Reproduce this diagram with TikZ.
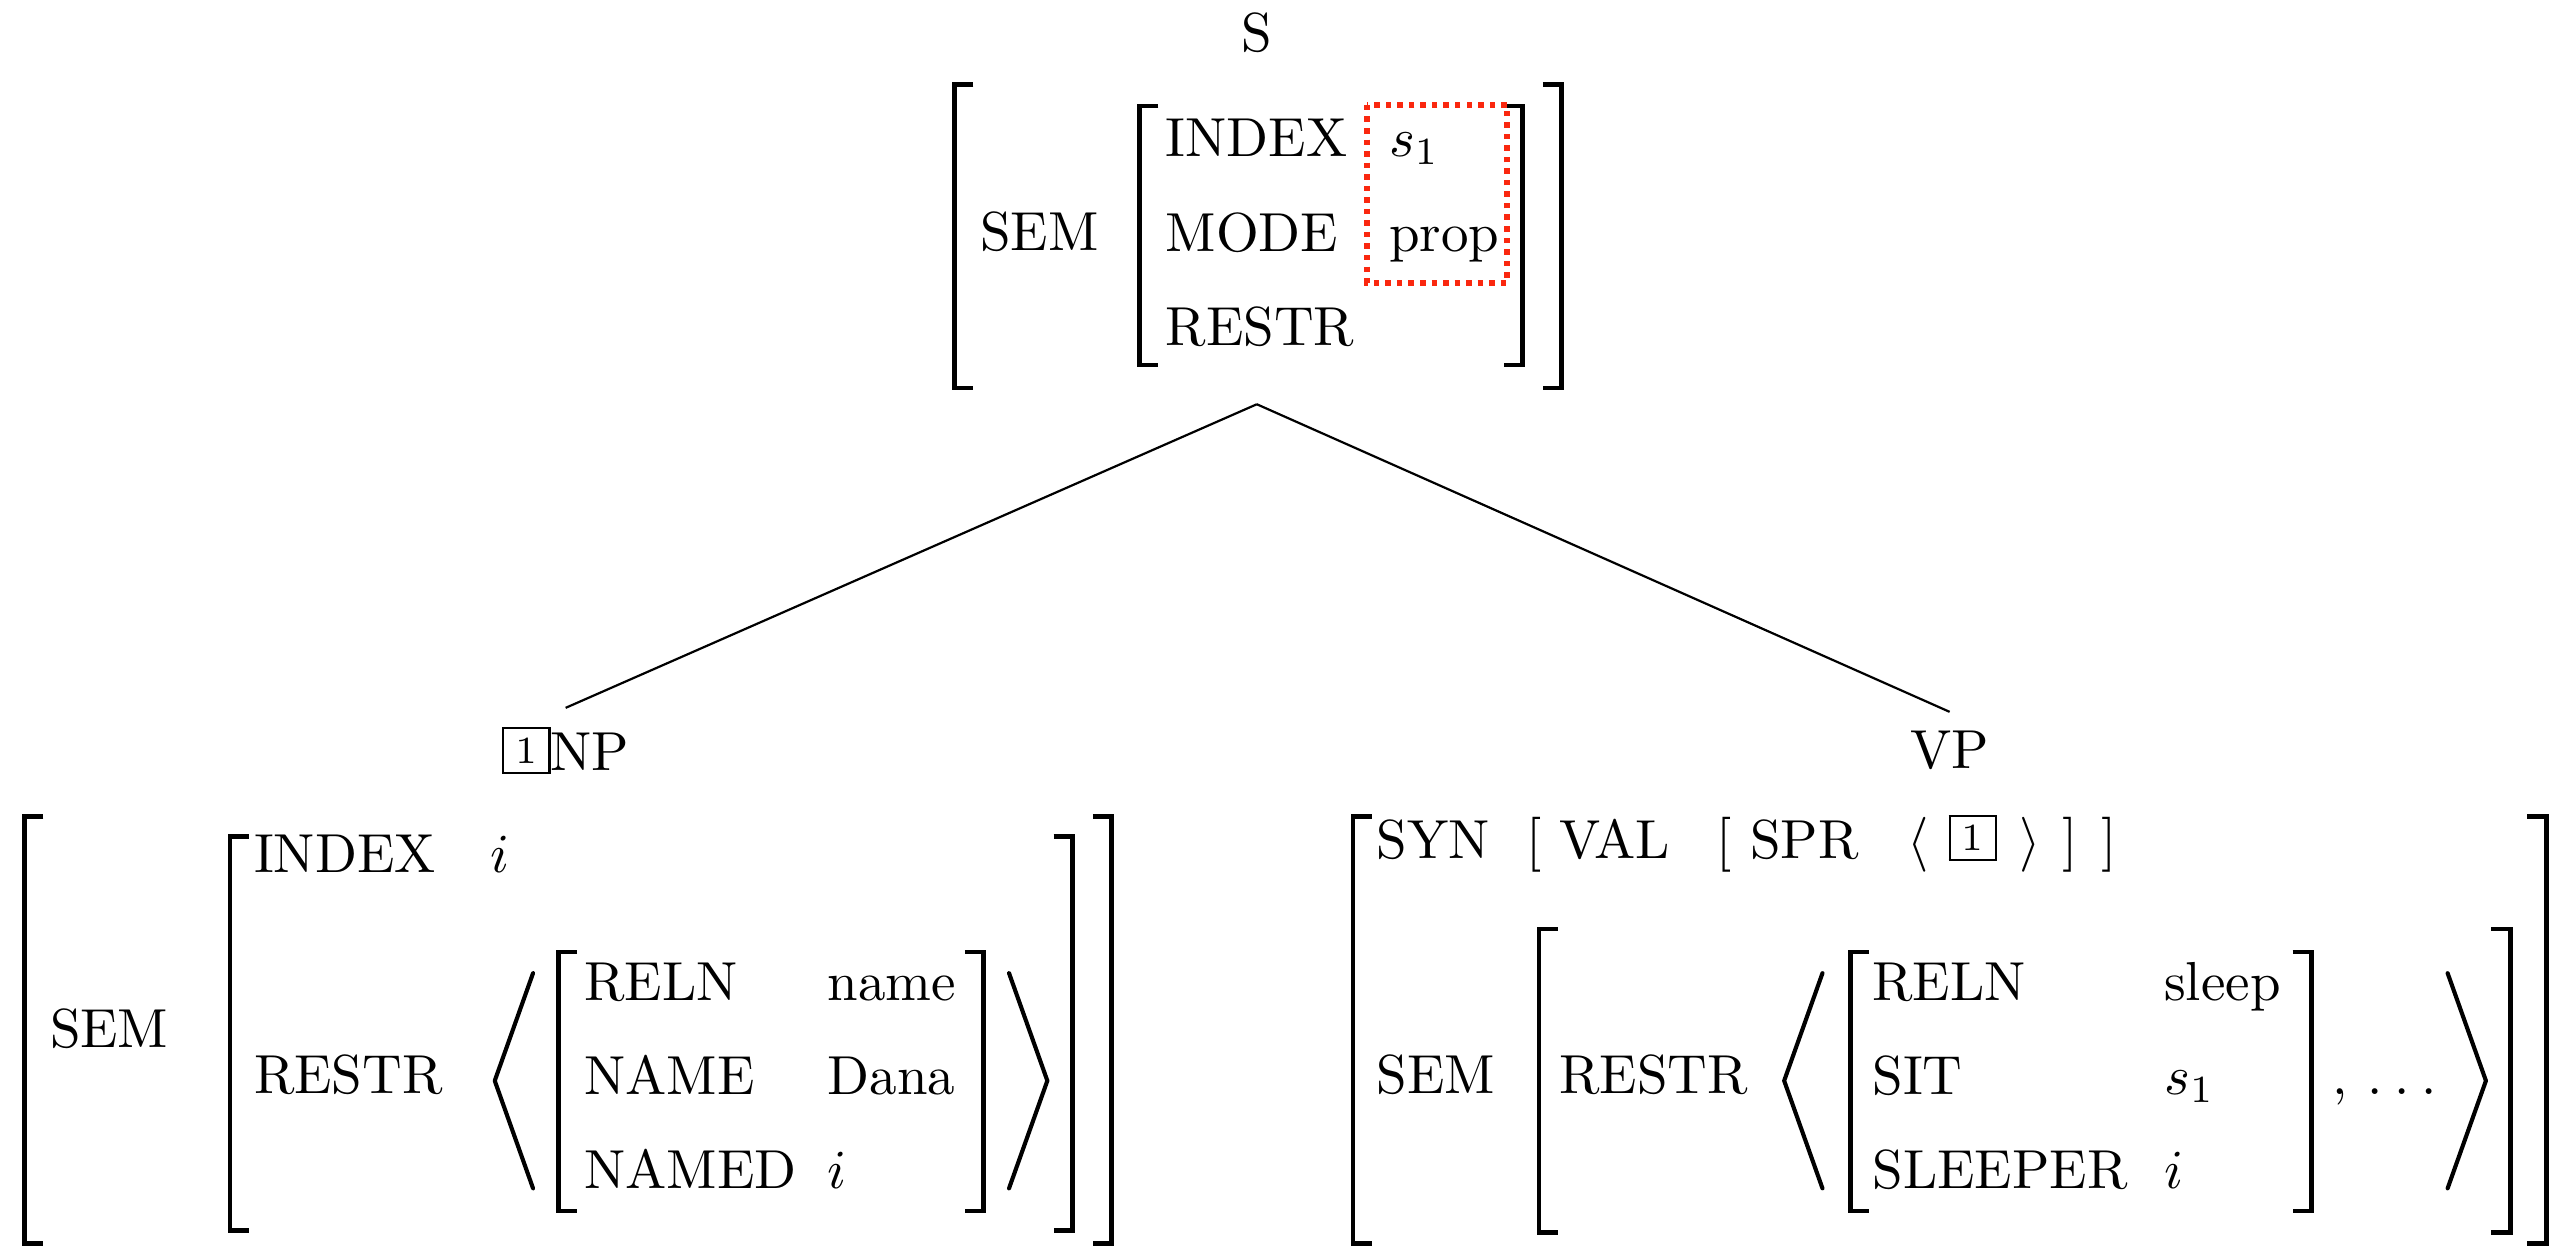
\documentclass[tikz,border=0pt]{standalone}
\usepackage{xcolor}
\definecolor{sharered}{RGB}{250,40,15}
\newcommand{\tagbox}[1]{\raisebox{1.3pt}{\setlength{\fboxsep}{1.5pt}\fbox{\makebox[5pt]{\scriptsize #1}}}}
% left and right AVM brackets: x of the stem, top, bottom
\newcommand{\lbrk}[3]{\draw[brk] (#1,#2) ++(11.6,0) -- (#1,#2) -- (#1,#3) -- ++(11.6,0);}
\newcommand{\rbrk}[3]{\draw[brk] (#1,#2) ++(-11.6,0) -- (#1,#2) -- (#1,#3) -- ++(-11.6,0);}
\tikzset{%
    % Specifications for style of nodes:
    cat/.style = {},
    feat/.style = {anchor=base west, inner sep=0pt},
    brk/.style = {line width=0.85pt},
    angl/.style = {line width=0.75pt, line cap=round, line join=round},
    branch/.style = {line width=0.4pt},
    share/.style = {draw=sharered, line width=1.15pt, dash pattern=on 1pt off 1.1pt}
}

\begin{document}
\begin{tikzpicture}[x=0.2966pt, y=-0.2966pt]
    \useasboundingbox (0,0) rectangle (1568,769);
    % S and its AVM
    \node[cat] (s) at (771,20) {S};
    \lbrk{585.5}{52}{238}
    \lbrk{699}{65}{224}
    \rbrk{934}{65}{224}
    \rbrk{958}{52}{238}
    \node[feat] (ssem) at (600.6,153.5) {SEM};
    \node[feat] (sindex) at (714.5,96) {INDEX};
    \node[feat] (smode) at (714.5,154) {MODE};
    \node[feat] (srestr) at (714.5,212) {RESTR};
    \node[feat] (sindexval) at (851.5,96) {$s_1$};
    \node[feat] (smodeval) at (851.5,154) {prop};
    \draw[share] (838.7,64.4) rectangle (924.5,173.6);
    \coordinate (savm) at (771,248);
    % NP and its AVM
    \node[cat] (np) at (347,460.4) {\tagbox{1}NP};
    \lbrk{15}{501}{763}
    \lbrk{141}{513}{755}
    \draw[angl] (327,597) -- (303.5,663) -- (327,729);
    \lbrk{342.5}{584}{743}
    \rbrk{603.5}{584}{743}
    \draw[angl] (619,597) -- (642.5,663) -- (619,729);
    \rbrk{658}{513}{755}
    \rbrk{682}{501}{763}
    \node[feat] (npsem) at (30,642.3) {SEM};
    \node[feat] (npindex) at (155.2,535) {INDEX};
    \node[feat] (npindexval) at (300,535) {$i$};
    \node[feat] (nprestr) at (155.2,671) {RESTR};
    \node[feat] (npreln) at (357.7,614) {RELN};
    \node[feat] (npname) at (357.7,671.5) {NAME};
    \node[feat] (npnamed) at (357.7,729) {NAMED};
    \node[feat] (nprelnval) at (507,614) {name};
    \node[feat] (npnameval) at (507,671.5) {Dana};
    \node[feat] (npnamedval) at (507,729) {$i$};
    % VP and its AVM
    \node[cat] (vp) at (1196,460.5) {VP};
    \lbrk{830}{501}{763}
    \lbrk{944}{570}{756}
    \draw[angl] (1118,597) -- (1094.5,663) -- (1118,729);
    \lbrk{1135}{584}{743}
    \rbrk{1418}{584}{743}
    \draw[angl] (1501.5,597) -- (1525,663) -- (1501.5,729);
    \rbrk{1540}{570}{756}
    \rbrk{1562}{501}{763}
    \node[feat] (vpsyn) at (844,526.4) {SYN};
    \node[feat] (vpsynval) at (936,526.4) {[\kern3.1pt VAL\kern8.4pt[\kern3.4pt SPR\kern9pt$\langle$\kern3.5pt\tagbox{1}\kern4.1pt$\rangle$\kern3.9pt]\kern4.3pt]};
    \node[feat] (vpsem) at (844,671) {SEM};
    \node[feat] (vprestr) at (956,671) {RESTR};
    \node[feat] (vpreln) at (1148,614) {RELN};
    \node[feat] (vpsit) at (1148,671.5) {SIT};
    \node[feat] (vpsleeper) at (1148,729) {SLEEPER};
    \node[feat] (vprelnval) at (1327,614) {sleep};
    \node[feat] (vpsitval) at (1327,671.5) {$s_1$};
    \node[feat] (vpsleeperval) at (1327,729) {$i$};
    \node[feat] (vpmore) at (1430,671.5) {,\kern3.6pt.\kern2.2pt.\kern2.2pt.};
    % branches
    \draw[branch] (savm) -- (np.north);
    \draw[branch] (savm) -- (vp.north);
\end{tikzpicture}
\end{document}
